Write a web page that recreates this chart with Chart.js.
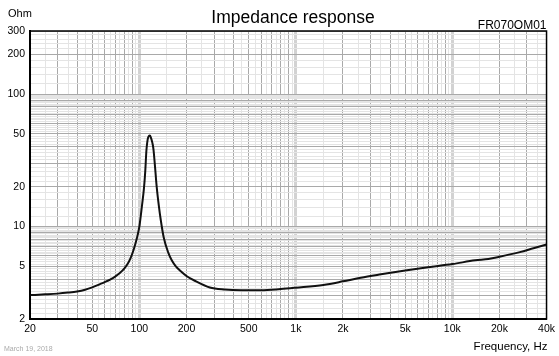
<!DOCTYPE html>
<html>
<head>
<meta charset="utf-8">
<script src="https://cdn.jsdelivr.net/npm/chart.js@4"></script>
<style>
  html, body { margin: 0; padding: 0; background: #fff; }
  #wrap { width: 559px; height: 356px; position: relative; }
</style>
</head>
<body>
<div id="wrap"><canvas id="c" width="559" height="356"></canvas></div>
<script>
// ---- data ----
const freqHz = [20, 25, 30, 35, 40, 45, 50, 56, 60, 65, 70, 75, 80, 84, 88, 92, 96, 100, 104, 107, 109, 111, 113, 115, 116.7, 118.5, 121, 123, 126, 129, 133, 137, 143, 153, 161, 171, 184, 200, 226, 282, 350, 450, 600, 800, 1000, 1500, 2000, 2600, 3500, 5000, 7000, 10000, 14000, 17000, 20000, 27000, 33000, 40000];
const impedanceOhm = [3.03, 3.07, 3.11, 3.165, 3.23, 3.33, 3.47, 3.67, 3.80, 3.97, 4.18, 4.45, 4.80, 5.2, 5.8, 6.7, 8.0, 10.0, 14.5, 19.5, 26, 38, 45.5, 48.3, 48.7, 47, 43, 38.5, 28, 20, 14.5, 11.2, 8.3, 6.34, 5.55, 5.0, 4.59, 4.23, 3.89, 3.46, 3.34, 3.30, 3.30, 3.37, 3.45, 3.62, 3.85, 4.1, 4.35, 4.65, 4.92, 5.2, 5.55, 5.68, 5.9, 6.4, 6.85, 7.3];
const xTickLabels = [20, 50, 100, 200, 500, 1000, 2000, 5000, 10000, 20000, 40000];
const yTickLabels = [2, 5, 10, 20, 50, 100, 200, 300];
const titleText = "Impedance response";
const modelText = "FR070OM01";
const yUnitText = "Ohm";
const xUnitText = "Frequency, Hz";
const dateText = "March 19, 2018";

const FONT = "'Liberation Sans', Arial, sans-serif";

function mantissa(v) {
  const e = Math.floor(Math.log10(v) + 1e-9);
  return { m: v / Math.pow(10, e), e: e };
}
function isInt(x) { return Math.abs(x - Math.round(x)) < 1e-6; }

// grid tick values
function xGridValues(min, max) {
  const out = [];
  for (let e = 1; e <= 4; e++) {
    const d = Math.pow(10, e);
    for (let k = 1; k < 10; k += 0.5) {
      const v = Math.round(k * d * 1000) / 1000;
      if (v >= min - 1e-6 && v <= max + 1e-6) out.push(v);
    }
  }
  return out;
}
function yGridValues(min, max) {
  const out = [];
  for (let e = 0; e <= 2; e++) {
    const d = Math.pow(10, e);
    for (let i = 10; i < 100; i += 2) {
      const v = Math.round(i / 10 * d * 1000) / 1000;
      if (v >= min - 1e-6 && v <= max + 1e-6) out.push(v);
    }
  }
  return out;
}

function xFmt(v) {
  if (v >= 1000) return (v / 1000) + 'k';
  return String(v);
}

const points = freqHz.map((f, i) => ({ x: f, y: impedanceOhm[i] }));

const textPlugin = {
  id: 'texts',
  afterDraw(chart) {
    const ctx = chart.ctx;
    const a = chart.chartArea;
    ctx.save();
    // frame
    ctx.strokeStyle = '#000';
    ctx.lineWidth = 1.5;
    ctx.strokeRect(a.left, a.top, a.right - a.left, a.bottom - a.top);
    ctx.fillStyle = '#000';
    ctx.textBaseline = 'alphabetic';
    ctx.font = '11px ' + FONT;
    ctx.textAlign = 'left';
    ctx.fillText(yUnitText, 8, 17);
    ctx.font = '17.5px ' + FONT;
    ctx.textAlign = 'center';
    ctx.fillText(titleText, 293, 23);
    ctx.font = '12px ' + FONT;
    ctx.textAlign = 'right';
    ctx.fillText(modelText, a.right, 29);
    ctx.font = '11.5px ' + FONT;
    ctx.fillText(xUnitText, a.right + 1, 350);
    ctx.font = '7px ' + FONT;
    ctx.textAlign = 'left';
    ctx.fillStyle = '#aaaaaa';
    ctx.fillText(dateText, 4, 351);
    ctx.restore();
  }
};

new Chart(document.getElementById('c'), {
  type: 'scatter',
  data: {
    datasets: [{
      data: points,
      showLine: true,
      borderColor: '#111',
      borderWidth: 2,
      pointRadius: 0,
      cubicInterpolationMode: 'monotone',
      fill: false
    }]
  },
  options: {
    responsive: false,
    animation: false,
    events: [],
    layout: { padding: { left: 0, right: 12, top: 31, bottom: 0 } },
    plugins: { legend: { display: false }, title: { display: false }, tooltip: { enabled: false } },
    scales: {
      x: {
        type: 'logarithmic',
        min: 20,
        max: 40000,
        afterBuildTicks(scale) {
          scale.ticks = xGridValues(20, 40000).map(v => ({ value: v }));
        },
        afterFit(scale) { scale.height = 37; },
        border: { display: true, color: '#000', width: 2 },
        grid: {
          drawTicks: false,
          color(ctx) {
            const v = ctx.tick.value;
            const mm = mantissa(v);
            if (isInt(mm.m) && Math.round(mm.m) === 1) return '#d2d2d2';
            if (isInt(mm.m)) return '#a9a9a9';
            return '#e4e4e4';
          },
          lineWidth(ctx) {
            const v = ctx.tick.value;
            const mm = mantissa(v);
            if (isInt(mm.m) && Math.round(mm.m) === 1) return 3;
            return 1;
          }
        },
        ticks: {
          autoSkip: false,
          maxRotation: 0,
          minRotation: 0,
          padding: 4,
          color: '#000',
          font: { family: FONT, size: 10.5 },
          callback(value) {
            return xTickLabels.some(t => Math.abs(t - value) < 1e-6) ? xFmt(value) : '';
          }
        }
      },
      y: {
        type: 'logarithmic',
        min: 2,
        max: 300,
        afterBuildTicks(scale) {
          scale.ticks = yGridValues(2, 300).map(v => ({ value: v }));
        },
        afterFit(scale) { scale.width = 30; },
        border: { display: true, color: '#000', width: 2 },
        grid: {
          drawTicks: false,
          color(ctx) {
            const v = ctx.tick.value;
            const mm = mantissa(v);
            if (isInt(mm.m)) return '#a9a9a9';
            return '#e4e4e4';
          },
          lineWidth: 1
        },
        ticks: {
          autoSkip: false,
          padding: 5,
          color: '#000',
          font: { family: FONT, size: 10.5 },
          callback(value) {
            return yTickLabels.some(t => Math.abs(t - value) < 1e-6) ? String(value) : '';
          }
        }
      }
    }
  },
  plugins: [textPlugin]
});
</script>
</body>
</html>
